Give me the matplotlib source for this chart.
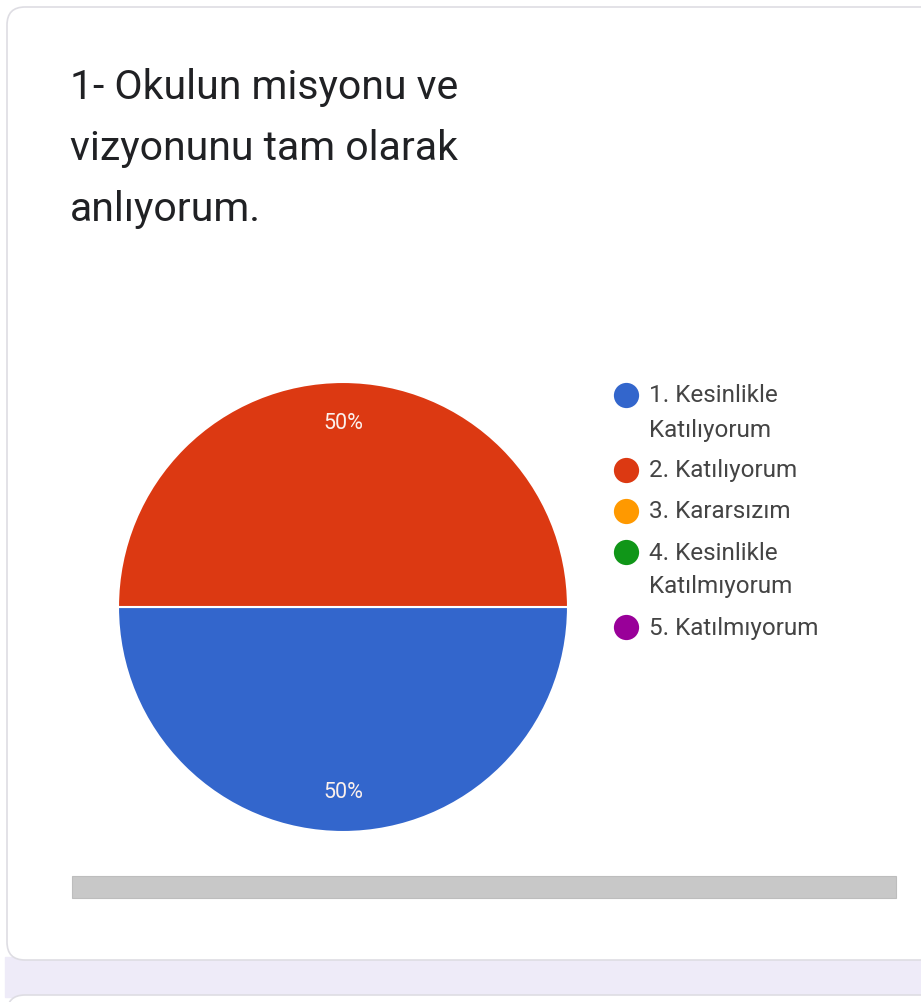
import matplotlib.pyplot as plt
from matplotlib.patches import FancyBboxPatch, Rectangle

# veriler
categories = ['1. Kesinlikle\nKatılıyorum', '2. Katılıyorum', '3. Kararsızım',
              '4. Kesinlikle\nKatılmıyorum', '5. Katılmıyorum']
values = [50, 50, 0, 0, 0]
colors = ['#3366cc', '#dc3912', '#ff9900', '#109618', '#990099']
title = '1- Okulun misyonu ve\nvizyonunu tam olarak\nanlıyorum.'

W, H = 921, 1003
plt.rcParams['font.family'] = ['Roboto', 'DejaVu Sans']
fig = plt.figure(figsize=(W / 100, H / 100), dpi=100)
fig.patch.set_facecolor('white')

# kaart achtergrond (pixelcoordinaten)
bg = fig.add_axes([0, 0, 1, 1])
bg.set_xlim(0, W)
bg.set_ylim(H, 0)
bg.axis('off')
bg.add_patch(Rectangle((5, 958), W, 40, color='#eeebf8', zorder=0))
bg.add_patch(FancyBboxPatch((7, 8), 940, 953, boxstyle='round,pad=0,rounding_size=18',
                            facecolor='white', edgecolor='#dedde3', linewidth=1.2))
bg.add_patch(FancyBboxPatch((7, 996), 940, 40, boxstyle='round,pad=0,rounding_size=18',
                            facecolor='white', edgecolor='#dedde3', linewidth=1.2))
# grijze balk
bg.add_patch(Rectangle((72, 877), 824, 22, facecolor='#c8c8c8', edgecolor='#bdbdbd', linewidth=0.8))

# titel
fig.text(70 / W, 1 - 68 / H, title, fontsize=29.5, color='#202124', va='top', ha='left',
         linespacing=1.71)

# taartdiagram
cx, cy, r = 343, 608, 225
ax = fig.add_axes([(cx - r) / W, (H - cy - r) / H, 2 * r / W, 2 * r / H])
nz = [i for i, v in enumerate(values) if v > 0]
wedges, texts, autotexts = ax.pie([values[i] for i in nz], colors=[colors[i] for i in nz],
                                  startangle=180, autopct='%1.0f%%', pctdistance=0.82,
                                  radius=1, wedgeprops=dict(edgecolor='white', linewidth=1.5),
                                  textprops=dict(color='#fbf0ec', fontsize=15.5))
ax.set_xlim(-1, 1)
ax.set_ylim(-1, 1)
ax.set_aspect('equal')

# legenda met de hand: bolletje bij de eerste regel
y = 396
line_step, entry_step = 34, 41
for lab, c in zip(categories, colors):
    lines = lab.split('\n')
    bg.scatter(626, y, s=330, color=c, zorder=3, linewidths=0)
    for k, ln in enumerate(lines):
        bg.text(649, y + k * line_step, ln, fontsize=17.5, color='#444444', va='center', ha='left')
    y += (len(lines) - 1) * line_step + entry_step

plt.savefig('out.png', dpi=100)
